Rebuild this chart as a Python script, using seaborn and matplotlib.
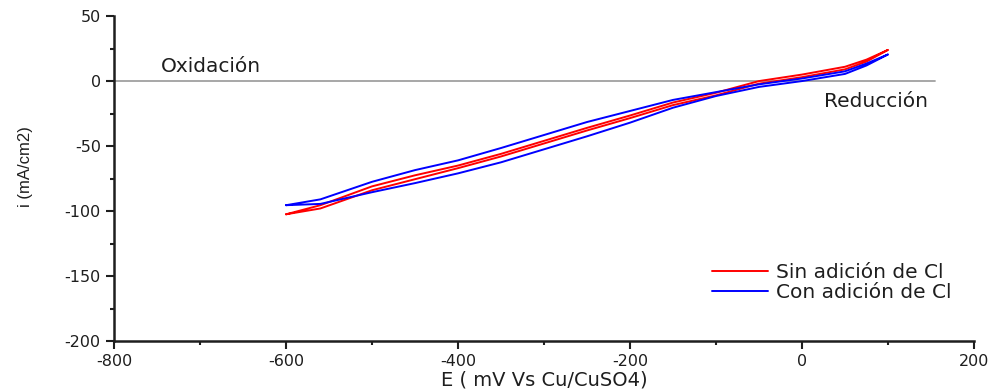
import numpy as np
import pandas as pd
import matplotlib
matplotlib.use("Agg")
import matplotlib.pyplot as plt
import seaborn as sns
from matplotlib.ticker import MultipleLocator

# Potential grid (mV vs Cu/CuSO4)
E = [-600, -560, -500, -450, -400, -350, -300, -250, -200, -150, -100, -50, 0, 50, 75, 100]

# Sin adición de Cl (red) - two branches of the loop
sin_fwd = [-102.5, -98, -84, -75.5, -67, -58, -48, -38, -28.5, -18.5, -11, -2, 3, 9, 15, 24]
sin_rev = [-102.5, -95.5, -81, -72.5, -65, -56, -46, -36, -26.5, -16.5, -9, 0, 5, 11, 16.5, 24]

# Con adición de Cl (blue)
con_fwd = [-95.5, -94.5, -85.5, -78.5, -71, -62.5, -52.5, -42.5, -32, -20.5, -11.5, -4.5, 0, 5.5, 12, 20.5]
con_rev = [-95.5, -91, -77.5, -68.5, -61, -51.5, -41.5, -31.5, -23, -14.5, -8.5, -2.5, 2, 7.5, 13.5, 20.5]

labels = ["Sin adición de Cl", "Con adición de Cl"]
colors = ["#ff0000", "#0000ff"]

rows = []
for lab, fwd, rev in [(labels[0], sin_fwd, sin_rev), (labels[1], con_fwd, con_rev)]:
    xs = list(E) + list(E[::-1])
    ys = list(fwd) + list(rev[::-1])
    for x, y in zip(xs, ys):
        rows.append({"E": x, "i": y, "serie": lab})
df = pd.DataFrame(rows)

sns.set_style("ticks")
plt.rcParams["font.family"] = ["DejaVu Sans"]
plt.rcParams["axes.unicode_minus"] = False

TXT = "#1e1e1e"

fig = plt.figure(figsize=(9.95, 3.92), dpi=100)
ax = fig.add_axes([0.1146, 0.130, 0.8643, 0.829])

ax.plot([-800, 155], [0, 0], color="#a0a0a0", lw=1.3, zorder=1)

sns.lineplot(data=df, x="E", y="i", hue="serie", palette=colors, sort=False,
             estimator=None, lw=1.4, ax=ax, zorder=3)

ax.set_xlim(-800, 200)
ax.set_ylim(-200, 50)
ax.xaxis.set_major_locator(MultipleLocator(200))
ax.xaxis.set_minor_locator(MultipleLocator(100))
ax.yaxis.set_major_locator(MultipleLocator(50))
ax.yaxis.set_minor_locator(MultipleLocator(25))
ax.tick_params(which="major", direction="out", length=5.5, width=1.5, labelsize=11.5,
               colors=TXT, pad=4)
ax.tick_params(which="minor", direction="out", length=3, width=1.5, colors=TXT)

sns.despine(ax=ax)
for s in ["left", "bottom"]:
    ax.spines[s].set_linewidth(1.8)
    ax.spines[s].set_color(TXT)

ax.set_xlabel("E ( mV Vs Cu/CuSO4)", fontsize=14, color=TXT)
ax.xaxis.set_label_coords(0.5, -0.092)
ax.set_ylabel("i (mA/cm2)", fontsize=12, color=TXT, family=["Liberation Sans", "DejaVu Sans"])
ax.yaxis.set_label_coords(-0.094, 0.538)

ax.text(-746, 11.5, "Oxidación", fontsize=14.5, va="center", ha="left", color=TXT)
ax.text(26, -16, "Reducción", fontsize=14.5, va="center", ha="left", color=TXT)

leg = ax.legend(loc="lower left", bbox_to_anchor=(0.6837, 0.0904), frameon=False,
                fontsize=14.5, handlelength=2.8, handletextpad=0.35, labelspacing=0.05,
                borderpad=0)
for t in leg.get_texts():
    t.set_color(TXT)
for line in leg.get_lines():
    line.set_linewidth(1.4)

fig.savefig("out.png", dpi=100)
